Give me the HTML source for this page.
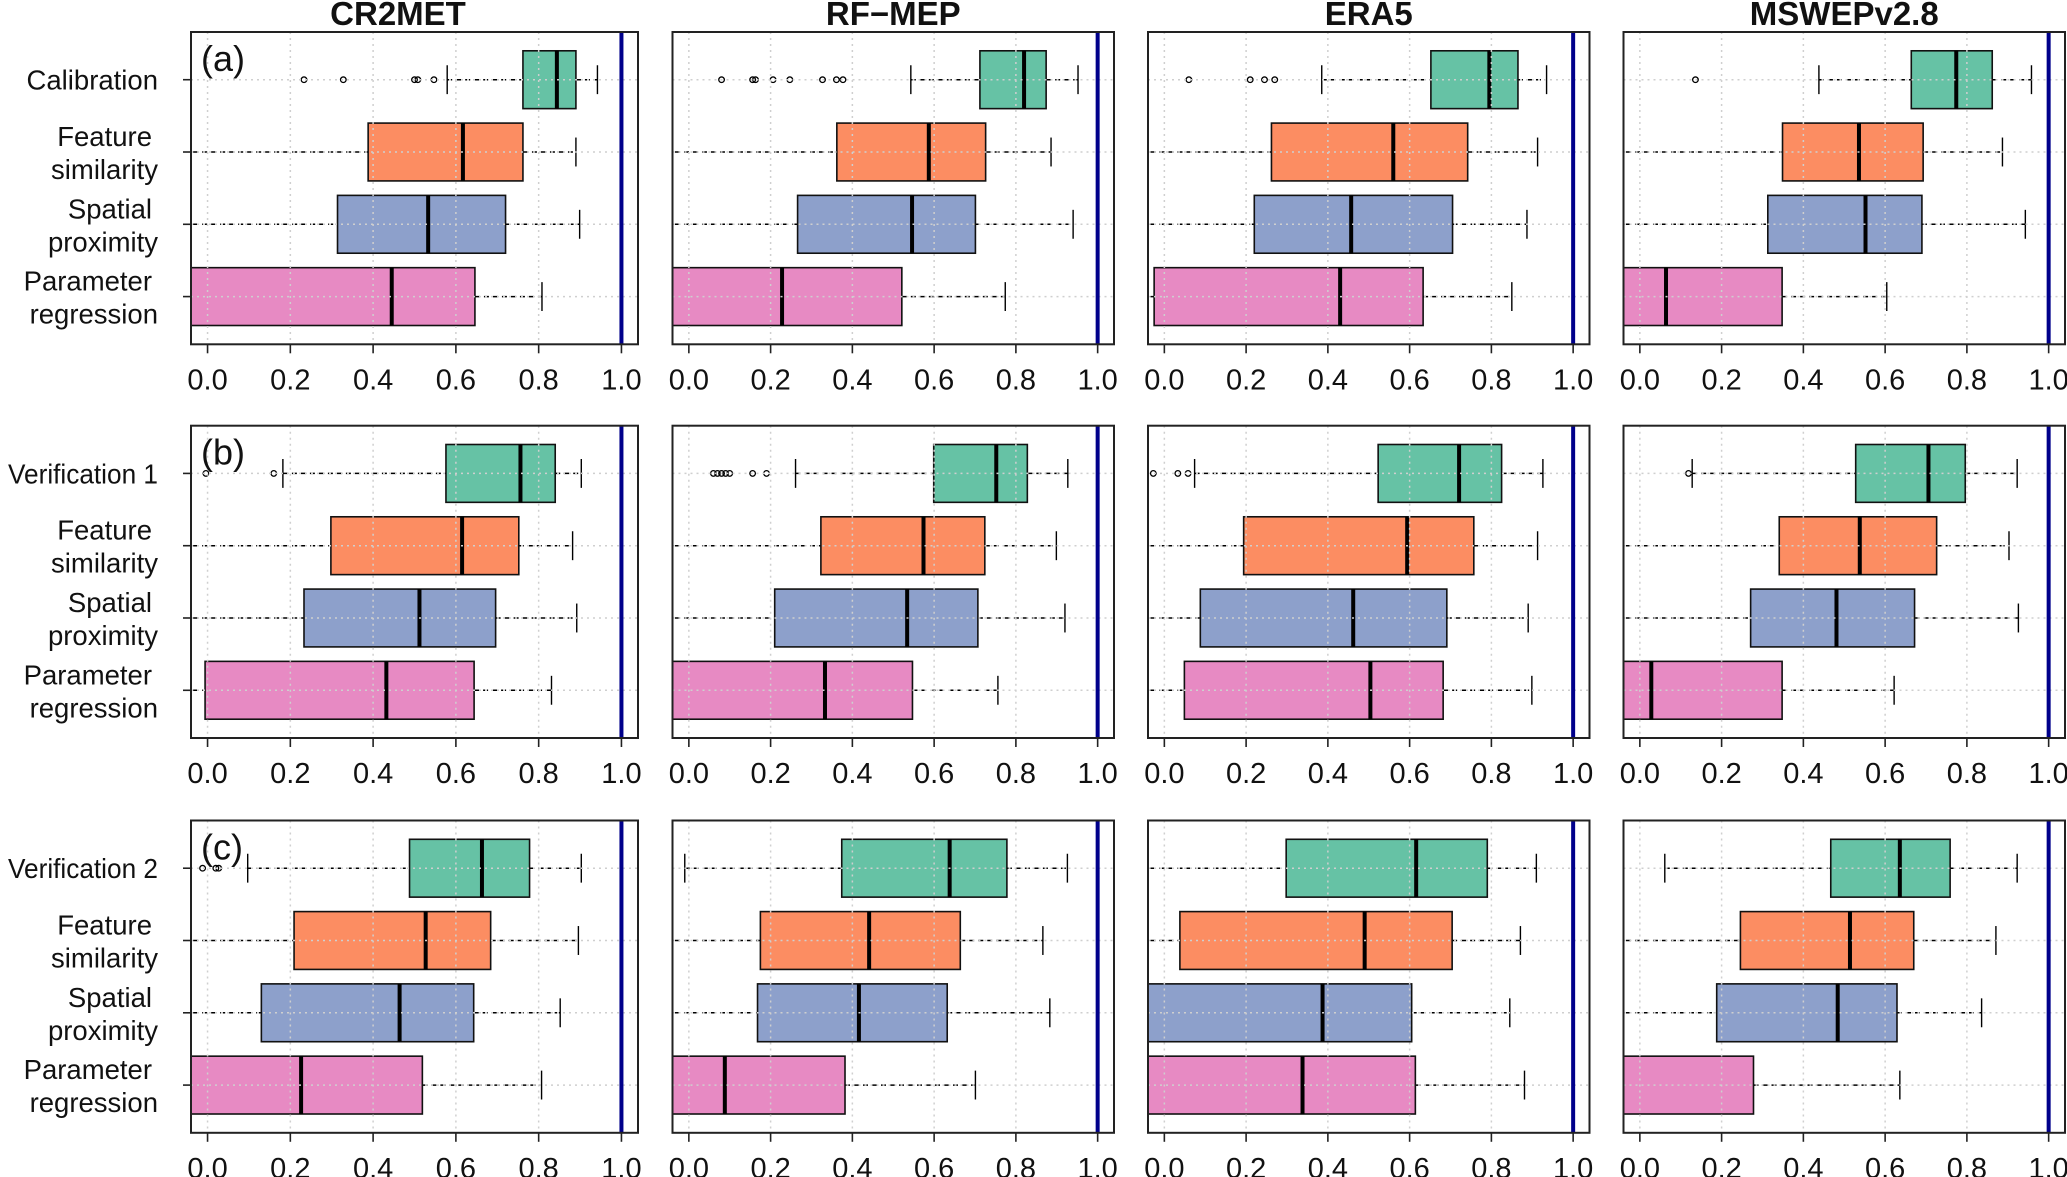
<!DOCTYPE html>
<html><head><meta charset="utf-8">
<style>
html,body{margin:0;padding:0;background:#fff;}
svg{display:block;font-family:"Liberation Sans",Arial,sans-serif;}
</style></head>
<body>
<svg id="chart" width="2067" height="1177" viewBox="0 0 2067 1177" xmlns="http://www.w3.org/2000/svg"></svg>
<script>
const datasets = ["CR2MET", "RF\u2212MEP", "ERA5", "MSWEPv2.8"];
const rowLetters = ["(a)", "(b)", "(c)"];
const firstGroupNames = ["Calibration", "Verification 1", "Verification 2"];
const groupNames = [["Feature", "similarity"], ["Spatial", "proximity"], ["Parameter", "regression"]];
const tickValues = [0, 0.2, 0.4, 0.6, 0.8, 1.0];
const tickLabels = ["0.0", "0.2", "0.4", "0.6", "0.8", "1.0"];

const whiskerLow = [
  [0.579, -0.1, -0.1, -0.1], [0.543, -0.1, -0.1, -0.1], [0.385, -0.1, -0.1, -0.1], [0.438, -0.1, -0.1, -0.1],
  [0.182, -0.1, -0.1, -0.1], [0.261, -0.1, -0.1, -0.1], [0.074, -0.1, -0.1, -0.1], [0.128, -0.1, -0.1, -0.1],
  [0.097, -0.1, -0.1, -0.1], [-0.01, -0.1, -0.1, -0.1], [-0.1, -0.1, -0.1, -0.1], [0.061, -0.1, -0.1, -0.1]
];
const quart1 = [
  [0.762, 0.388, 0.314, -0.1], [0.712, 0.362, 0.266, -0.1], [0.652, 0.262, 0.22, -0.025], [0.664, 0.349, 0.313, -0.1],
  [0.576, 0.298, 0.233, -0.006], [0.599, 0.323, 0.210, -0.1], [0.523, 0.194, 0.088, 0.049], [0.528, 0.341, 0.271, -0.1],
  [0.488, 0.209, 0.130, -0.1], [0.374, 0.175, 0.168, -0.1], [0.298, 0.038, -0.1, -0.1], [0.467, 0.246, 0.188, -0.1]
];
const medians = [
  [0.844, 0.617, 0.533, 0.445], [0.820, 0.587, 0.546, 0.228], [0.795, 0.560, 0.457, 0.430], [0.774, 0.536, 0.552, 0.064],
  [0.756, 0.615, 0.512, 0.432], [0.752, 0.574, 0.534, 0.333], [0.721, 0.594, 0.462, 0.504], [0.706, 0.538, 0.481, 0.028],
  [0.663, 0.527, 0.464, 0.226], [0.638, 0.441, 0.416, 0.088], [0.616, 0.490, 0.387, 0.338], [0.636, 0.514, 0.484, -0.06]
];
const quart3 = [
  [0.890, 0.762, 0.720, 0.646], [0.874, 0.726, 0.701, 0.521], [0.865, 0.742, 0.705, 0.633], [0.862, 0.693, 0.690, 0.348],
  [0.840, 0.752, 0.696, 0.644], [0.828, 0.724, 0.707, 0.547], [0.825, 0.757, 0.691, 0.682], [0.796, 0.726, 0.672, 0.348],
  [0.778, 0.684, 0.643, 0.519], [0.778, 0.664, 0.632, 0.382], [0.790, 0.704, 0.605, 0.614], [0.759, 0.670, 0.629, 0.278]
];
const whiskerHigh = [
  [0.942, 0.890, 0.899, 0.808], [0.952, 0.886, 0.940, 0.774], [0.935, 0.913, 0.887, 0.850], [0.958, 0.887, 0.943, 0.604],
  [0.903, 0.882, 0.892, 0.831], [0.927, 0.899, 0.920, 0.756], [0.926, 0.913, 0.890, 0.899], [0.923, 0.903, 0.926, 0.622],
  [0.903, 0.896, 0.852, 0.807], [0.926, 0.866, 0.883, 0.701], [0.910, 0.871, 0.845, 0.881], [0.923, 0.871, 0.836, 0.636]
];
const outliers = [
  [0.233, 0.328, 0.500, 0.508, 0.547], [0.080, 0.156, 0.163, 0.206, 0.247, 0.327, 0.361, 0.377], [0.060, 0.210, 0.245, 0.270], [0.136],
  [-0.004, 0.160], [0.06, 0.07, 0.08, 0.09, 0.10, 0.156, 0.19], [-0.027, 0.033, 0.058], [0.119],
  [-0.012, 0.020, 0.027], [], [], []
];
const boxColors = ["#66C2A5", "#FC8D62", "#8DA0CB", "#E78AC3"];

const colLeft = [191, 672.5, 1148, 1623.5];
const colWidth = [447, 441.5, 441.5, 441.5];
const rowTop = [32, 425.7, 820.5];
const rowH = 312.3;
const XMIN = -0.04, XMAX = 1.04;
const YMIN = 0.34, YMAX = 4.66;

const NS = "http://www.w3.org/2000/svg";
const svg = document.getElementById("chart");
function mk(tag, attrs, parent) {
  const e = document.createElementNS(NS, tag);
  for (const k in attrs) e.setAttribute(k, attrs[k]);
  (parent || svg).appendChild(e);
  return e;
}
const defs = mk("defs", {});

for (let r = 0; r < 3; r++) {
  for (let c = 0; c < 4; c++) {
    const p = r * 4 + c;
    const L = colLeft[c], W = colWidth[c], T = rowTop[r];
    const xs = v => L + (v - XMIN) / (XMAX - XMIN) * W;
    const ys = pos => T + (YMAX - pos) / (YMAX - YMIN) * rowH;

    const cp = mk("clipPath", { id: "clip" + p }, defs);
    mk("rect", { x: L, y: T, width: W, height: rowH }, cp);

    const g = mk("g", { "clip-path": "url(#clip" + p + ")" });
    
    

    for (let k = 0; k < 4; k++) {
      const pos = 4 - k;
      const cy = ys(pos);
      const hh = 0.4 * rowH / (YMAX - YMIN);
      const bg = mk("g", {}, g);
      
      
      mk("line", { x1: xs(whiskerLow[p][k]), x2: xs(quart1[p][k]), y1: cy, y2: cy, stroke: "#000", "stroke-width": 1.5, "stroke-dasharray": "5,4" }, bg);
      mk("line", { x1: xs(quart3[p][k]), x2: xs(whiskerHigh[p][k]), y1: cy, y2: cy, stroke: "#000", "stroke-width": 1.5, "stroke-dasharray": "5,4" }, bg);
      mk("line", { x1: xs(whiskerLow[p][k]), x2: xs(whiskerLow[p][k]), y1: cy - hh / 2, y2: cy + hh / 2, stroke: "#000", "stroke-width": 1.4 }, bg);
      mk("line", { x1: xs(whiskerHigh[p][k]), x2: xs(whiskerHigh[p][k]), y1: cy - hh / 2, y2: cy + hh / 2, stroke: "#000", "stroke-width": 1.4 }, bg);
      mk("rect", { x: xs(quart1[p][k]), y: cy - hh, width: xs(quart3[p][k]) - xs(quart1[p][k]), height: 2 * hh, fill: boxColors[k], stroke: "#111", "stroke-width": 1.6 }, bg);
      mk("line", { x1: xs(medians[p][k]), x2: xs(medians[p][k]), y1: cy - hh, y2: cy + hh, stroke: "#000", "stroke-width": 4 }, bg);
      if (k === 0) {
        for (const o of outliers[p]) {
          const ci = mk("circle", { cx: xs(o), cy: cy, r: 2.8, fill: "none", stroke: "#000", "stroke-width": 1.3 }, bg);
          
          
        }
      }
    }
    for (const tv of tickValues) {
      mk("line", { x1: xs(tv), x2: xs(tv), y1: T, y2: T + rowH, stroke: "#cfcfcf", "stroke-width": 1.5, "stroke-dasharray": "2,4" }, g);
    }
    for (let k = 0; k < 4; k++) {
      const cy = ys(4 - k);
      mk("line", { x1: L, x2: L + W, y1: cy, y2: cy, stroke: "#cfcfcf", "stroke-width": 1.5, "stroke-dasharray": "2,4" }, g);
    }
    const ref = mk("line", { x1: xs(1), x2: xs(1), y1: T, y2: T + rowH, stroke: "#00008B", "stroke-width": 4 });
    
    
    mk("rect", { x: L, y: T, width: W, height: rowH, fill: "none", stroke: "#222", "stroke-width": 2 });

    for (let i = 0; i < tickValues.length; i++) {
      const tx = xs(tickValues[i]);
      mk("line", { x1: tx, x2: tx, y1: T + rowH, y2: T + rowH + 9, stroke: "#222", "stroke-width": 1.6 });
      const t = mk("text", { x: tx, y: T + rowH + 45, "text-anchor": "middle", "font-size": 29, fill: "#111" });
      t.textContent = tickLabels[i];
      
      
    }

    if (r === 0) {
      const tt = mk("text", { x: c === 0 ? 398 : L + W / 2, y: 25, "text-anchor": "middle", "font-size": 33, "font-weight": "bold", fill: "#111" });
      tt.textContent = datasets[c];
      
      
    }
    if (c === 0) {
      const lt = mk("text", { x: 201, y: T + 39, "font-size": 36, fill: "#111" });
      lt.textContent = rowLetters[r];
      
      
      for (let k = 0; k < 4; k++) {
        const cy = ys(4 - k);
        mk("line", { x1: L - 8, x2: L, y1: cy, y2: cy, stroke: "#222", "stroke-width": 1.6 });
        if (k === 0) {
          const attrs = { x: 158, y: cy + 10, "text-anchor": "end", "font-size": 27.5, fill: "#111" };
          if (r > 0) { attrs.textLength = 150; attrs.lengthAdjust = "spacingAndGlyphs"; }
          const yl = mk("text", attrs);
          yl.textContent = firstGroupNames[r];
          
          
        } else {
          const nm = groupNames[k - 1];
          const y1 = mk("text", { x: 152, y: cy - 6, "text-anchor": "end", "font-size": 27.5, fill: "#111" });
          y1.textContent = nm[0];
          
          
          const y2 = mk("text", { x: 158, y: cy + 27, "text-anchor": "end", "font-size": 27.5, fill: "#111" });
          y2.textContent = nm[1];
          
          
        }
      }
    }
  }
}
</script>
</body></html>
